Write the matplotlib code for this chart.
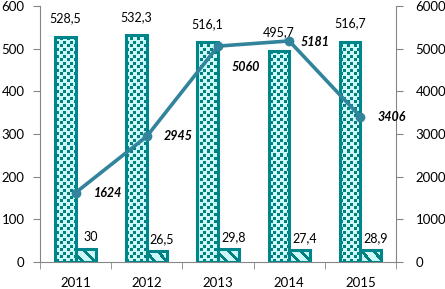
import numpy as np
import matplotlib.pyplot as plt
from matplotlib.colors import ListedColormap

# data
years = ['2011', '2012', '2013', '2014', '2015']
big_vals = [528.5, 532.3, 516.1, 495.7, 516.7]
small_vals = [30, 26.5, 29.8, 27.4, 28.9]
line_vals = [1624, 2945, 5060, 5181, 3406]
big_labels = ['528,5', '532,3', '516,1', '495,7', '516,7']
small_labels = ['30', '26,5', '29,8', '27,4', '28,9']
line_labels = ['1624', '2945', '5060', '5181', '3406']

edge_c = '#00868A'
light_c = '#CDF8F8'
dark_c = '#00807F'
line_c = '#31849B'
grey = '#868686'

plt.rcParams['font.family'] = ['Lato', 'DejaVu Sans']

W, H = 445, 289
fig = plt.figure(figsize=(W / 100, H / 100), dpi=100)
ax = fig.add_axes([40 / W, 27 / H, 356 / W, 256 / H])
ax2 = ax.twinx()

x = np.arange(len(years))
bw = 0.29
cmap = ListedColormap([light_c, dark_c])


def squares(c, r):
    a = ((c % 7) < 3) & ((r % 7) < 3)
    b = (((c + 3) % 7) < 3) & (((r + 4) % 7) < 3)
    return (a | b).astype(float)


def stripes(c, r):
    return (((c - r) % 12) < 4).astype(float)


def fill_pattern(bars, func):
    # paint a pixel pattern inside each bar, clipped to the bar shape
    for b in bars:
        x0, x1 = b.get_x(), b.get_x() + b.get_width()
        y1 = b.get_height()
        (px0, py0), (px1, py1) = ax.transData.transform([(x0, 0), (x1, y1)])
        nx = max(int(round(px1 - px0)), 1)
        ny = max(int(round(py1 - py0)), 1)
        cols = np.arange(nx) + int(round(px0))
        rows = np.arange(ny) + int(round(H - py1))
        C, R = np.meshgrid(cols, rows)
        ax.imshow(func(C, R), extent=[x0, x1, 0, y1], cmap=cmap, vmin=0, vmax=1,
                  interpolation='nearest', aspect='auto', zorder=2, clip_path=b)


ax.set_xlim(-0.5, len(years) - 0.5)
ax.set_ylim(0, 600)
ax2.set_ylim(0, 6000)

bars1 = ax.bar(x - bw / 2, big_vals, bw, facecolor='none', edgecolor=edge_c,
               linewidth=2.2, zorder=3)
bars2 = ax.bar(x + bw / 2, small_vals, bw, facecolor='none', edgecolor=edge_c,
               linewidth=2.2, zorder=3)
fill_pattern(bars1, squares)
fill_pattern(bars2, stripes)
ax.set_xlim(-0.5, len(years) - 0.5)
ax.set_ylim(0, 600)

for b, lab in zip(bars1, big_labels):
    ax.annotate(lab, (b.get_x() + b.get_width() / 2, b.get_height()), xytext=(0, 18),
                textcoords='offset pixels', ha='center', va='center', fontsize=9)
for b, lab in zip(bars2, small_labels):
    ax.annotate(lab, (b.get_x() + b.get_width() / 2, b.get_height()), xytext=(5, 12),
                textcoords='offset pixels', ha='center', va='center', fontsize=9)

ax2.plot(x, line_vals, color=line_c, lw=2.6, marker='o', ms=6, zorder=5)
line_offsets = [(32, 0), (31, 0), (28, -21), (26, -1), (31, 0)]
for xi, v, lab, off in zip(x, line_vals, line_labels, line_offsets):
    ax2.annotate(lab, (xi, v), xytext=off, textcoords='offset pixels', ha='center',
                 va='center', fontsize=9, fontweight='bold', fontstyle='italic')

# axes styling
ax.set_yticks(np.arange(0, 601, 100))
ax2.set_yticks(np.arange(0, 6001, 1000))
ax.set_xticks(x)
ax.set_xticklabels(years)
ax.set_xticks(np.arange(-0.5, len(years)), minor=True)
ax.tick_params(axis='x', which='major', length=0, pad=11, labelsize=9.5)
ax.tick_params(axis='x', which='minor', length=5, color=grey)
ax.tick_params(axis='y', length=5, color=grey, pad=6, labelsize=9.5)
ax2.tick_params(axis='y', length=5, color=grey, pad=9, labelsize=9.5)

for s in ['top', 'right']:
    ax.spines[s].set_visible(False)
for s in ['top', 'left', 'bottom']:
    ax2.spines[s].set_visible(False)
ax.spines['left'].set_color(grey)
ax.spines['bottom'].set_color(grey)
ax2.spines['right'].set_color(grey)

fig.savefig('out.png', dpi=100)
